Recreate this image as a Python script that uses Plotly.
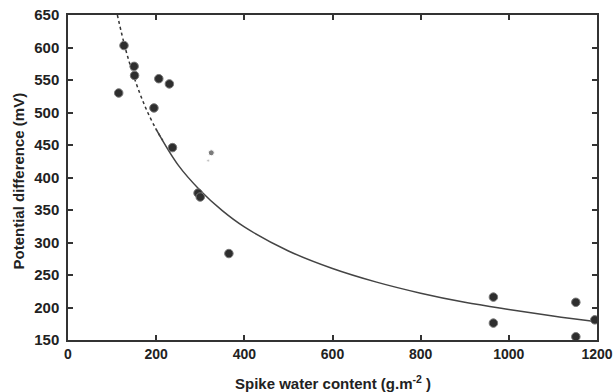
import plotly.graph_objects as go

# Observed points (spike water content g.m-2, potential difference mV)
pts_x = [115, 127, 150, 151, 195, 206, 230, 237, 295, 300, 365, 965, 965, 1152, 1152, 1195]
pts_y = [530, 603, 571, 557, 507, 552, 544, 446, 376, 370, 283, 216, 176, 208, 155, 181]

# Faint small points
small_x = [325, 318]
small_y = [438, 426]

# Fitted curve
curve_dot_x = [112, 130, 150, 175, 200, 215]
curve_dot_y = [650, 599, 554, 509, 474, 457]
curve_x = [200, 250, 300, 350, 400, 500, 600, 700, 800, 900, 1000, 1100, 1200]
curve_y = [474, 419, 380, 349, 324, 287, 260, 239, 222, 208, 197, 187, 178]

x_ticks = [0, 200, 400, 600, 800, 1000, 1200]
y_ticks = [150, 200, 250, 300, 350, 400, 450, 500, 550, 600, 650]

x_title = "Spike water content (g.m<sup>-2</sup> )"
y_title = "Potential difference (mV)"

fig = go.Figure()
fig.add_trace(go.Scatter(x=curve_dot_x, y=curve_dot_y, mode="lines",
                         line=dict(color="#333333", width=1.5, dash="dot", shape="spline"),
                         showlegend=False, hoverinfo="skip"))
fig.add_trace(go.Scatter(x=curve_x, y=curve_y, mode="lines",
                         line=dict(color="#444444", width=1.5, shape="spline"),
                         showlegend=False, hoverinfo="skip"))
fig.add_trace(go.Scatter(x=pts_x, y=pts_y, mode="markers",
                         marker=dict(color="#2e2e2e", size=8.5,
                                     line=dict(color="#777777", width=1)),
                         showlegend=False))
fig.add_trace(go.Scatter(x=small_x, y=small_y, mode="markers",
                         marker=dict(color=["#444444", "#aaaaaa"], size=[6, 3]),
                         showlegend=False))

axis_common = dict(showgrid=False, zeroline=False, showline=True, mirror="ticks",
                   linecolor="#333333", linewidth=1.5, ticks="inside", ticklen=5,
                   tickcolor="#333333", tickwidth=1.5, automargin=False)

title_font = dict(family="Liberation Sans", size=15, color="#222222", weight="bold")

fig.update_layout(
    width=614, height=392,
    margin=dict(l=68, r=17, t=15, b=52),
    paper_bgcolor="white", plot_bgcolor="white",
    xaxis=dict(range=[0, 1200], tickvals=x_ticks,
               tickfont=dict(family="Liberation Sans", size=14, color="#222222",
                             weight="bold"),
               **axis_common),
    yaxis=dict(range=[150, 650], tickvals=y_ticks, ticklabelstandoff=4,
               tickfont=dict(family="Liberation Sans", size=15, color="#222222",
                             weight="bold"),
               **axis_common),
    annotations=[
        dict(text=x_title, xref="paper", yref="paper", x=0.5, y=0, yshift=-42,
             xanchor="center", yanchor="middle", showarrow=False, font=title_font),
        dict(text=y_title, xref="paper", yref="paper", x=0, xshift=-50, y=0.5,
             yshift=-4, xanchor="center", yanchor="middle", textangle=-90,
             showarrow=False, font=title_font),
    ],
)

fig.write_html("out.html", config={"displayModeBar": False},
               post_script="document.body.style.margin='0';document.body.style.overflow='hidden';")
